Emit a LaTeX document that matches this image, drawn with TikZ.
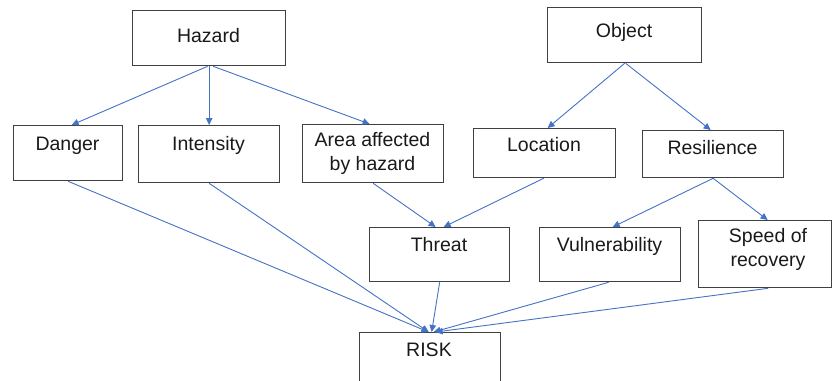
\documentclass[tikz,border=0pt]{standalone}
\usepackage{fontspec}
\setmainfont{Liberation Sans}
\usetikzlibrary{arrows.meta}
\definecolor{boxline}{HTML}{404040}
\definecolor{arrowblue}{HTML}{4472C4}
\begin{document}
\begin{tikzpicture}[x=1pt,y=-1pt,
  boxnode/.style={draw=boxline, line width=1.3pt, rectangle, inner sep=0pt, anchor=north west},
  txt/.style={font=\fontsize{19.5}{23.5}\selectfont, anchor=base, align=center, inner sep=0pt, text=black!90},
  conn/.style={draw=arrowblue, line width=0.9pt, -{Triangle[length=7pt,width=6.5pt]}}]
\useasboundingbox (0,0) rectangle (832,380);
% boxes
\node[boxnode, minimum width=153pt, minimum height=55pt] (haz) at (132,10) {};
\node[boxnode, minimum width=109pt, minimum height=55pt] (dan) at (13,125) {};
\node[boxnode, minimum width=141pt, minimum height=57pt] (int) at (138,125) {};
\node[boxnode, minimum width=141pt, minimum height=58pt] (area) at (302,124) {};
\node[boxnode, minimum width=154pt, minimum height=55pt] (obj) at (547,7) {};
\node[boxnode, minimum width=142pt, minimum height=49pt] (loc) at (473,128) {};
\node[boxnode, minimum width=141pt, minimum height=47pt] (res) at (642,130) {};
\node[boxnode, minimum width=140pt, minimum height=54pt] (thr) at (369,227) {};
\node[boxnode, minimum width=141pt, minimum height=54pt] (vul) at (539,227) {};
\node[boxnode, minimum width=133pt, minimum height=67pt] (spd) at (698,220) {};
\node[boxnode, minimum width=141pt, minimum height=70pt] (risk) at (359,332) {};
% texts
\node[txt] (thaz) at (208.5,42) {Hazard};
\node[txt] (tdan) at (67.5,150) {Danger};
\node[txt] (tint) at (208.5,150) {Intensity};
\node[txt] (tarea) at (372.5,170.2) {Area affected\\by hazard};
\node[txt] (tobj) at (624,37.5) {Object};
\node[txt] (tloc) at (544,151) {Location};
\node[txt] (tres) at (712.5,154.3) {Resilience};
\node[txt] (tthr) at (439,251) {Threat};
\node[txt] (tvul) at (609.5,251) {Vulnerability};
\node[txt] (tspd) at (768,266.2) {Speed of\\recovery};
\node[txt] (trisk) at (429,356.7) {RISK};
% connectors
\draw[conn] ([xshift=-1.5pt]haz.south) -- ([xshift=3.5pt]dan.north);
\draw[conn] (haz.south) -- (int.north);
\draw[conn] ([xshift=4pt]haz.south) -- ([xshift=-3.5pt]area.north);
\draw[conn] (obj.south) -- ([xshift=3pt]loc.north);
\draw[conn] ([xshift=1pt]obj.south) -- ([xshift=-2.5pt]res.north);
\draw[conn] (area.south) -- ([xshift=-4pt]thr.north);
\draw[conn] ([xshift=-1pt]loc.south) -- ([xshift=4pt]thr.north);
\draw[conn] (res.south) -- ([xshift=2.5pt]vul.north);
\draw[conn] (res.south) -- ([xshift=2.5pt]spd.north);
\draw[conn] (dan.south) -- ([xshift=-1.5pt]risk.north);
\draw[conn] (int.south) -- ([xshift=-1.5pt]risk.north);
\draw[conn] (thr.south) -- ([xshift=1.5pt]risk.north);
\draw[conn] ([xshift=-1.5pt]vul.south) -- ([xshift=3.5pt]risk.north);
\draw[conn] ([xshift=3pt]spd.south) -- ([xshift=5.5pt]risk.north);
\end{tikzpicture}
\end{document}
